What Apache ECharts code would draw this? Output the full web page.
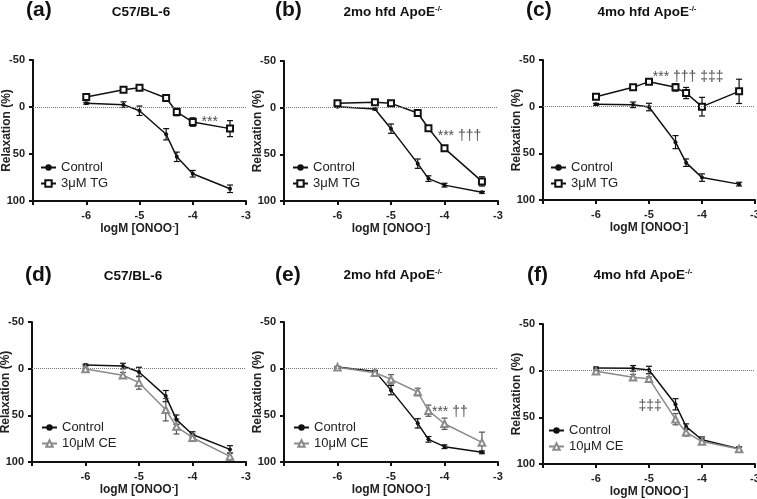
<!DOCTYPE html>
<html>
<head>
<meta charset="utf-8">
<script src="https://cdn.jsdelivr.net/npm/echarts@6/dist/echarts.min.js"></script>
<style>
html, body { margin: 0; padding: 0; background: #fff; }
#main { width: 757px; height: 499px; }
</style>
</head>
<body>
<div id="main"></div>
<script>
// log concentrations, same for every panel
var xs = [-6, -5.3, -5, -4.5, -4.3, -4, -3.3];

// (a) C57/BL-6, TG
var ctrlA = [-4, -2.5, 4, 29, 53, 71, 87];
var ctrlAErr = [1, 3, 5, 6, 5, 3.5, 4];
var tgA = [-10.6, -18.4, -20.6, -9.6, 5.3, 16, 23];
var tgAErr = [1.5, 1.5, 1.5, 3, 4, 4.5, 8.5];
// (b) 2mo hfd ApoE-/-, TG
var ctrlB = [-1, 1.4, 22.5, 60, 76, 83, 90.7];
var ctrlBErr = [0.5, 1, 5, 5, 3, 2, 1];
var tgB = [-4.6, -5.7, -4.6, 5.7, 22, 43.6, 79];
var tgBErr = [1.5, 1.5, 1.5, 2, 2.5, 3, 5];
// (c) 4mo hfd ApoE-/-, TG
var ctrlC = [-2.5, -2, 0.4, 38, 60, 76, 83];
var ctrlCErr = [1, 3, 4, 7, 4, 4, 2];
var tgC = [-10.7, -20.7, -26.8, -20.7, -14.6, 0, -16.4];
var tgCErr = [1, 1.5, 2, 4, 6, 10, 13];
// (d) C57/BL-6, CE
var ctrlD = [-3.9, -2.8, 3.5, 29.4, 54.6, 70.6, 86.5];
var ctrlDErr = [1, 3, 5, 6, 5, 3, 4];
var ceD = [0.4, 7, 15, 44, 62, 74, 94];
var ceDErr = [1, 3, 7, 12, 8, 4, 4];
// (e) 2mo hfd ApoE-/-, CE
var ctrlE = [-1.8, 2.9, 23, 58.6, 75.7, 83.6, 89.6];
var ctrlEErr = [0.5, 1, 5, 5, 3, 2, 1.5];
var ceE = [-1.4, 4.3, 11.4, 25, 45, 59, 79];
var ceEErr = [1, 1.5, 5, 4, 6, 6, 11];
// (f) 4mo hfd ApoE-/-, CE
var ctrlF = [-2.9, -2.5, -0.7, 36, 60, 74, 83.6];
var ctrlFErr = [1, 3, 4, 6, 3, 3, 2];
var ceF = [0.7, 7, 8.6, 52, 66, 76, 84];
var ceFErr = [1, 3, 2, 6, 4, 3, 2];

var tags = ['(a)', '(b)', '(c)', '(d)', '(e)', '(f)'];
var strains = ['C57/BL-6', '2mo hfd ApoE', '4mo hfd ApoE', 'C57/BL-6', '2mo hfd ApoE', '4mo hfd ApoE'];

// significance marks: text, x, y
var annoText = ['***', '*** †††', '*** ††† ‡‡‡', '', '*** ††', '‡‡‡'];
var annoX = [-3.68, -3.72, -4.26, 0, -3.9, -4.98];
var annoY = [16, 31, -32, 0, 47, 37.5];

var ctrls = [ctrlA, ctrlB, ctrlC, ctrlD, ctrlE, ctrlF];
var ctrlErrs = [ctrlAErr, ctrlBErr, ctrlCErr, ctrlDErr, ctrlEErr, ctrlFErr];
var trts = [tgA, tgB, tgC, ceD, ceE, ceF];
var trtErrs = [tgAErr, tgBErr, tgCErr, ceDErr, ceEErr, ceFErr];
var trtNames = ['3μM TG', '3μM TG', '3μM TG', '10μM CE', '10μM CE', '10μM CE'];

// layout of the six plots
var boxes = [
    {left: 33, top: 60, width: 213, height: 141},
    {left: 284, top: 61, width: 214, height: 140},
    {left: 543, top: 60, width: 212, height: 140},
    {left: 32, top: 322, width: 214, height: 140},
    {left: 284, top: 322, width: 214, height: 140},
    {left: 543, top: 324, width: 212, height: 140}
];
var legendPos = [[40, 161], [292, 161], [550, 161], [41, 421], [293, 421], [548, 424]];
var tagPos = [[26, 0], [275, 0], [526, 0], [25, 265], [275, 265], [527, 265]];
var titlePos = [[141, 5], [393, 5], [647, 5], [133, 269], [393, 268], [643, 268]];

var FONT = '"Liberation Sans", Arial, sans-serif';
var GREY = '#8a8a8a';

function errData(v, e) {
    return xs.map(function (x, i) { return [x, v[i] - e[i], v[i] + e[i]]; });
}
function pts(v) {
    return xs.map(function (x, i) { return [x, v[i]]; });
}
function errBar(color) {
    return function (params, api) {
        var x = api.value(0);
        var p1 = api.coord([x, api.value(1)]);
        var p2 = api.coord([x, api.value(2)]);
        var w = 3;
        var st = {stroke: color, lineWidth: 1.2};
        return {type: 'group', children: [
            {type: 'line', shape: {x1: p1[0], y1: p1[1], x2: p2[0], y2: p2[1]}, style: st},
            {type: 'line', shape: {x1: p1[0] - w, y1: p1[1], x2: p1[0] + w, y2: p1[1]}, style: st},
            {type: 'line', shape: {x1: p2[0] - w, y1: p2[1], x2: p2[0] + w, y2: p2[1]}, style: st}
        ]};
    };
}

var grids = [], xAxes = [], yAxes = [], series = [], legends = [], titles = [];

for (var i = 0; i < 6; i++) {
    var g = Object.assign({containLabel: false, outerBoundsMode: 'none'}, boxes[i]);
    grids.push(g);
    xAxes.push({
        type: 'value', gridIndex: i, min: -7, max: -3, interval: 1,
        name: '{t|logM [ONOO}{s|-}{t|]}', nameLocation: 'middle', nameGap: 21, nameMoveOverlap: false,
        nameTextStyle: {rich: {
            t: {fontFamily: FONT, fontWeight: 'bold', fontSize: 12, color: '#222'},
            s: {fontFamily: FONT, fontWeight: 'bold', fontSize: 8, color: '#222', padding: [0, 0, 6, 0]}
        }},
        axisLine: {show: true, onZero: false, lineStyle: {color: '#111', width: 2}},
        axisTick: {show: true, length: 4, lineStyle: {color: '#111', width: 2}},
        axisLabel: {
            margin: 9, fontFamily: FONT, fontWeight: 'bold', fontSize: 11, color: '#222',
            formatter: function (v) { return v === -7 ? '' : String(v); }
        },
        splitLine: {show: false}
    });
    yAxes.push({
        type: 'value', gridIndex: i, inverse: true, min: -50, max: 100, interval: 50,
        name: 'Relaxation (%)', nameLocation: 'middle', nameGap: 20, nameMoveOverlap: false,
        nameTextStyle: {fontFamily: FONT, fontWeight: 'bold', fontSize: 12, color: '#222'},
        axisLine: {show: true, onZero: false, lineStyle: {color: '#111', width: 2}},
        axisTick: {show: true, length: 4, lineStyle: {color: '#111', width: 2}},
        axisLabel: {margin: 8, fontFamily: FONT, fontWeight: 'bold', fontSize: 11, color: '#222'},
        splitLine: {show: false}
    });

    var isCE = i >= 3;
    var trtColor = isCE ? GREY : '#111';

    series.push({
        type: 'custom', xAxisIndex: i, yAxisIndex: i, z: 1, silent: true,
        renderItem: errBar('#111'), encode: {x: 0, y: [1, 2]},
        data: errData(ctrls[i], ctrlErrs[i])
    });
    series.push({
        type: 'custom', xAxisIndex: i, yAxisIndex: i, z: 1, silent: true,
        renderItem: errBar(isCE ? '#555' : '#111'), encode: {x: 0, y: [1, 2]},
        data: errData(trts[i], trtErrs[i])
    });
    series.push({
        name: 'Control', type: 'line', xAxisIndex: i, yAxisIndex: i, z: 3,
        symbol: 'circle', symbolSize: 4,
        itemStyle: {color: '#111'}, lineStyle: {color: '#111', width: 1.5},
        data: pts(ctrls[i]),
        markLine: {
            silent: true, symbol: ['none', 'none'], label: {show: false},
            lineStyle: {color: '#777', type: 'dotted', width: 1},
            data: [{yAxis: 0}]
        }
    });
    series.push({
        name: trtNames[i], type: 'line', xAxisIndex: i, yAxisIndex: i, z: 4,
        symbol: isCE ? 'emptyTriangle' : 'emptyRect', symbolSize: isCE ? 6.5 : 6,
        itemStyle: {color: trtColor, borderWidth: 1},
        lineStyle: {color: trtColor, width: 1.5},
        data: pts(trts[i])
    });
    if (annoText[i]) {
        series.push({
            type: 'scatter', xAxisIndex: i, yAxisIndex: i, z: 5, silent: true,
            symbolSize: 1, itemStyle: {color: 'rgba(0,0,0,0)'},
            label: {show: true, position: 'inside', formatter: annoText[i],
                fontFamily: FONT, fontSize: 14, color: '#222'},
            data: [[annoX[i], annoY[i]]]
        });
    }

    legends.push({
        data: ['Control', trtNames[i]], orient: 'vertical',
        left: legendPos[i][0], top: legendPos[i][1], padding: 0,
        itemWidth: 15, itemHeight: 8, itemGap: 3, selectedMode: false,
        textStyle: {fontFamily: FONT, fontSize: 13, color: '#222'}
    });

    titles.push({
        text: tags[i], left: tagPos[i][0], top: tagPos[i][1], padding: 0,
        textStyle: {fontFamily: FONT, fontWeight: 'bold', fontSize: 21, color: '#111'}
    });
    var sup = strains[i].indexOf('ApoE') >= 0;
    titles.push({
        text: sup ? '{m|' + strains[i] + '}{s|-/-}' : '{m|' + strains[i] + '}',
        left: titlePos[i][0], top: titlePos[i][1], textAlign: 'center', padding: 0,
        textStyle: {rich: {
            m: {fontFamily: FONT, fontWeight: 'bold', fontSize: 13.5, color: '#111'},
            s: {fontFamily: FONT, fontWeight: 'bold', fontSize: 8, color: '#111', padding: [0, 0, 7, 0]}
        }}
    });
}

var myChart = echarts.init(document.getElementById('main'));
var option = {
    animation: false,
    backgroundColor: '#fff',
    title: titles,
    legend: legends,
    grid: grids,
    xAxis: xAxes,
    yAxis: yAxes,
    series: series
};
myChart.setOption(option);
</script>
</body>
</html>
